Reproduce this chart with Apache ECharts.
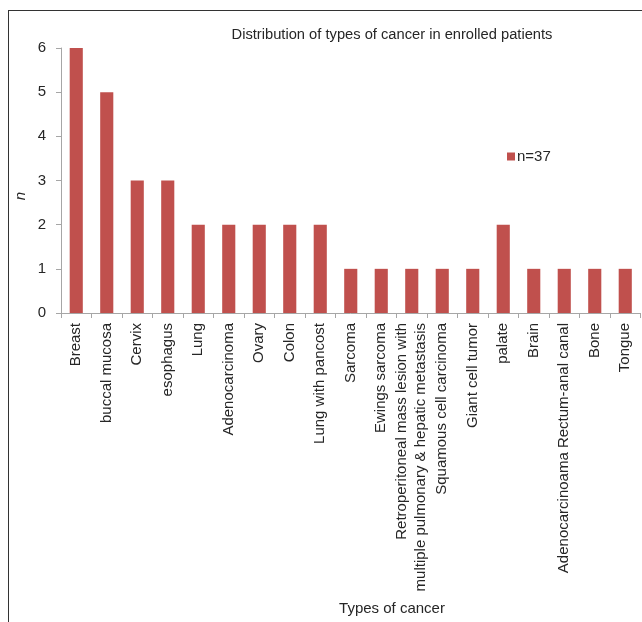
<!DOCTYPE html>
<html>
<head>
<meta charset="utf-8">
<script src="https://cdn.jsdelivr.net/npm/echarts@6/dist/echarts.min.js"></script>
<style>
  html, body { margin: 0; padding: 0; background: #fff; }
  #chart { width: 642px; height: 622px; }
</style>
</head>
<body>
<div id="chart"></div>
<script>
// Cancer types among enrolled patients
const categories = [
  'Breast', 'buccal mucosa', 'Cervix', 'esophagus', 'Lung', 'Adenocarcinoma',
  'Ovary', 'Colon', 'Lung with pancost', 'Sarcoma', 'Ewings sarcoma',
  'Retroperitoneal mass lesion with\nmultiple pulmonary & hepatic metastasis',
  'Squamous cell carcinoma', 'Giant cell tumor', 'palate', 'Brain',
  'Adenocarcinoama Rectum-anal canal', 'Bone', 'Tongue'
];
const counts = [6, 5, 3, 3, 2, 2, 2, 2, 2, 1, 1, 1, 1, 1, 2, 1, 1, 1, 1];
const seriesName = 'n=37';
const yTicks = { min: 0, max: 6, interval: 1 };

const textColor = '#262626';
const axisGray = '#a6a6a6';
const font = 'Liberation Sans, Arial, sans-serif';

const chart = echarts.init(document.getElementById('chart'), null, { renderer: 'canvas' });
chart.setOption({
  animation: false,
  textStyle: { fontFamily: font, color: textColor },
  title: [
    {
      text: 'Distribution of types of cancer in enrolled patients',
      left: 387, top: 22, textAlign: 'center',
      textStyle: { fontSize: 14.7, fontWeight: 'normal', color: textColor, fontFamily: font }
    },
    {
      // x-axis caption
      text: 'Types of cancer',
      left: 387, top: 596, textAlign: 'center',
      textStyle: { fontSize: 15, fontWeight: 'normal', color: textColor, fontFamily: font }
    }
  ],
  legend: {
    data: [{ name: seriesName, icon: 'rect' }],
    left: 502, top: 144,
    itemWidth: 8, itemHeight: 8, itemGap: 4,
    textStyle: { fontSize: 15, color: textColor, fontFamily: font, padding: [0, 0, 0, -3] }
  },
  graphic: [
    { type: 'line', shape: { x1: 8.5, y1: 10, x2: 8.5, y2: 622 }, style: { stroke: '#333', lineWidth: 1 } },
    { type: 'line', shape: { x1: 8, y1: 10.5, x2: 642, y2: 10.5 }, style: { stroke: '#333', lineWidth: 1 } },
    {
      // y-axis caption
      type: 'text', x: 21, y: 196, rotation: Math.PI / 2,
      style: {
        text: 'n', fontSize: 15, fontStyle: 'italic', fontFamily: font, fill: textColor,
        align: 'center', verticalAlign: 'middle'
      }
    }
  ],
  grid: { left: 61, right: 1.5, top: 48, bottom: 309, containLabel: false },
  xAxis: {
    type: 'category',
    data: categories,
    axisLine: { lineStyle: { color: axisGray, width: 1 } },
    axisTick: { show: true, alignWithLabel: false, length: 5, lineStyle: { color: axisGray } },
    axisLabel: {
      rotate: 90, interval: 0, margin: 10,
      fontSize: 15, lineHeight: 19, color: textColor, fontFamily: font
    }
  },
  yAxis: {
    type: 'value',
    min: yTicks.min, max: yTicks.max, interval: yTicks.interval,
    axisLine: { show: true, lineStyle: { color: axisGray, width: 1 } },
    axisTick: { show: true, length: 5, lineStyle: { color: axisGray } },
    axisLabel: { fontSize: 15, margin: 15, color: textColor, fontFamily: font },
    splitLine: { show: false }
  },
  series: [{
    name: seriesName,
    type: 'bar',
    data: counts,
    barWidth: '43%',
    itemStyle: { color: '#c0504d' }
  }]
});
</script>
</body>
</html>
